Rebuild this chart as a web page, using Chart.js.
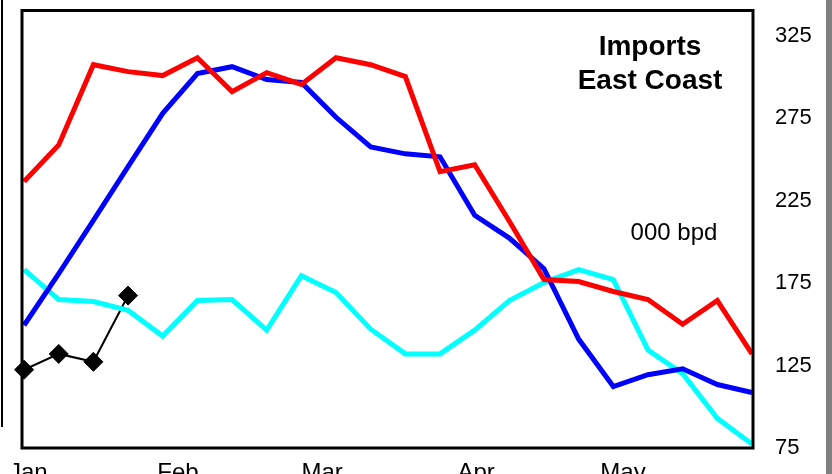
<!DOCTYPE html>
<html>
<head>
<meta charset="utf-8">
<script src="https://cdn.jsdelivr.net/npm/chart.js@4.4.1/dist/chart.umd.min.js"></script>
<style>
html,body{margin:0;padding:0;background:#fff;overflow:hidden}
#wrap{position:relative;width:832px;height:474px}
#edgeL{position:absolute;left:0;top:0;width:1px;height:427px;border-right:2px solid #000}
#edgeR{position:absolute;right:0;top:0;width:6px;height:474px;background:#808080}
</style>
</head>
<body>
<div id="wrap">
<canvas id="imports" width="832" height="474"></canvas>
<div id="edgeL"></div><div id="edgeR"></div>
</div>
<script>
// weekly imports, east coast (000 bpd)
const months=["Jan","Feb","Mar","Apr","May"];
const monthPos=[0.12,4.44,8.6,13.04,17.28];
const yTicks=[75,125,175,225,275,325];

const redLine=[236.7,258.9,307.6,303.4,301,311.8,291.3,302.8,295.6,311.8,307.6,300.4,242.7,246.9,212.6,177.2,176,170,165.1,150.1,164.5,132.1];
const blueLine=[149.5,180.8,213.2,245.7,278.1,302.2,306.4,298.6,296.8,275.7,257.7,253.5,251.7,216.2,202.4,183.8,141.1,112.3,119.5,123.1,113.5,108.7];
const cyanLine=[183.2,165.1,163.9,158.5,142.9,164.5,165.1,146.5,179.6,169.4,147.1,132.1,132.1,146.5,164.5,175.4,183.2,177.2,134.5,120.1,93,77.4];
const thisYear=[122.5,132.1,127.3,167.5];

const pts=arr=>arr.map((v,i)=>({x:i,y:v}));
const FONT="'Liberation Sans', Arial, sans-serif";

const frameAndText={
  id:"frameAndText",
  afterDraw(chart){
    const {ctx,chartArea:a}=chart;
    ctx.save();
    ctx.strokeStyle="#000";
    ctx.lineWidth=3;
    ctx.strokeRect(a.left,a.top,a.right-a.left,a.bottom-a.top);
    ctx.fillStyle="#000";
    ctx.textAlign="center";
    ctx.textBaseline="middle";
    ctx.font="bold 28px "+FONT;
    ctx.fillText("Imports",a.right-103,a.top+37);
    ctx.fillText("East Coast",a.right-103,a.top+71);
    ctx.font="24px "+FONT;
    ctx.fillText("000 bpd",a.right-79,a.top+223);
    ctx.restore();
  }
};

new Chart(document.getElementById("imports"),{
  type:"line",
  data:{
    datasets:[
      {data:pts(redLine),borderColor:"#ff0000",borderWidth:5,pointRadius:0},
      {data:pts(blueLine),borderColor:"#0000ff",borderWidth:5,pointRadius:0},
      {data:pts(cyanLine),borderColor:"#00ffff",borderWidth:5,pointRadius:0},
      {data:pts(thisYear),borderColor:"#000",borderWidth:2,pointStyle:"rectRot",clip:false,
       pointRadius:9.5,pointBorderWidth:1,pointBackgroundColor:"#000",pointBorderColor:"#000"}
    ]
  },
  options:{
    responsive:false,
    animation:false,
    layout:{padding:{left:22,top:6,right:0,bottom:0}},
    plugins:{legend:{display:false},tooltip:{enabled:false}},
    scales:{
      x:{
        type:"linear",min:-0.06,max:21.03,
        grid:{display:false},border:{display:false},
        afterBuildTicks:s=>{s.ticks=monthPos.map(v=>({value:v}));},
        afterFit:s=>{s.height=26;s.paddingLeft=0;s.paddingRight=0;},
        ticks:{autoSkip:false,maxRotation:0,padding:3,color:"#000",
          font:{family:FONT,size:24},
          callback:(v,i)=>months[i]}
      },
      y:{
        position:"right",min:75,max:340.5,
        grid:{display:false,drawTicks:false},border:{display:false},
        afterBuildTicks:s=>{s.ticks=yTicks.map(v=>({value:v}));},
        afterFit:s=>{s.width=79;s.paddingTop=0;s.paddingBottom=0;},
        ticks:{padding:22,color:"#000",font:{family:FONT,size:22}}
      }
    }
  },
  plugins:[frameAndText]
});
</script>
</body>
</html>
